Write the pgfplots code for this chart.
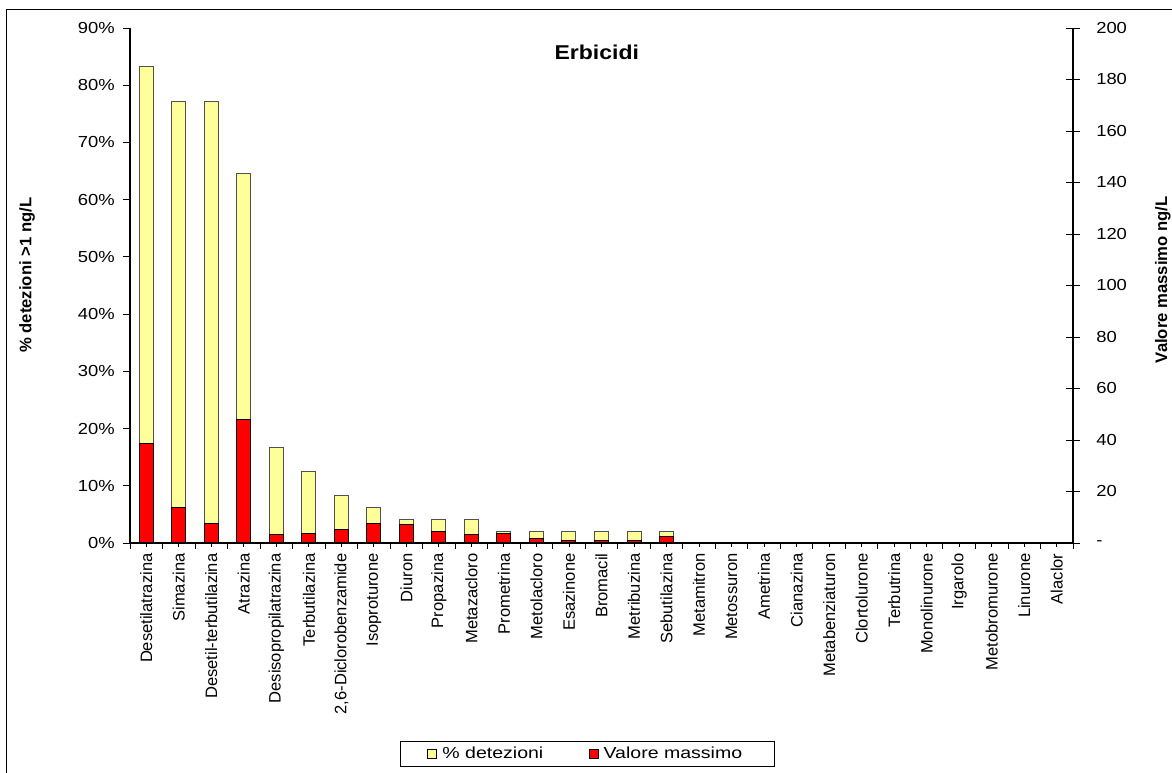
\documentclass[border=0pt]{standalone}
\usepackage{pgfplots}
\pgfplotsset{compat=1.18}
\usepackage{pgfplotstable}
\usepackage{fontspec}
\setmainfont{Liberation Sans}
\newfontfamily\hfont[FakeStretch=1.15]{Liberation Sans}
\newfontfamily\lfont[FakeStretch=1.22]{Liberation Sans}
\definecolor{yellowc}{HTML}{FFFF99}
\definecolor{redc}{HTML}{FF0000}
\definecolor{edgec}{HTML}{505050}
\pgfplotsset{sqlegend/.style={legend image code/.code={\draw[##1, line width=0.5pt] (0pt,-3.4pt) rectangle (6.75pt,3.4pt);}}}

\pgfplotstableread{
x pct maxv
0 83.33 38.8
1 77.08 13.9
2 77.08 7.6
3 64.58 47.8
4 16.67 3.4
5 12.50 3.8
6 8.33 5.4
7 6.25 7.6
8 4.17 7.3
9 4.17 4.5
10 4.17 3.4
11 2.08 3.5
12 2.08 1.6
13 2.08 1.0
14 2.08 0.9
15 2.08 0.9
16 2.08 2.7
}\datatable

\begin{document}
\begin{tikzpicture}
\useasboundingbox (0,0) rectangle (879pt,579.75pt);
\draw[line width=0.75pt] (4.5pt,0) -- (4.5pt,572.25pt) -- (879pt,572.25pt);

\begin{axis}[
  at={(97.5pt,172.5pt)}, anchor=south west,
  width=707.25pt, height=386.25pt, scale only axis,
  xmin=-0.5, xmax=28.5, ymin=0, ymax=90,
  axis x line*=bottom, axis y line*=left,
  axis line style={line width=0.9pt, -},
  /pgf/number format/assume math mode=true,
  tick align=outside,
  major tick length=5.25pt,
  xtick={0,...,28},
  xtick style={/pgfplots/major tick length=3pt, line width=0.7pt, black},
  minor xtick={-0.5,0.5,...,28.5},
  minor x tick style={/pgfplots/minor tick length=4.5pt, line width=0.7pt, black},
  xticklabels={Desetilatrazina,Simazina,Desetil-terbutilazina,Atrazina,Desisopropilatrazina,Terbutilazina,{2,6-Diclorobenzamide},Isoproturone,Diuron,Propazina,Metazacloro,Prometrina,Metolacloro,Esazinone,Bromacil,Metribuzina,Sebutilazina,Metamitron,Metossuron,Ametrina,Cianazina,Metabenziaturon,Clortolurone,Terbutrina,Monolinurone,Irgarolo,Metobromurone,Linurone,Alaclor},
  xticklabel style={rotate=90, anchor=east, font=\fontsize{12.4}{14}\selectfont, inner sep=2.5pt},
  ytick={0,10,...,90},
  yticklabels={0\%,10\%,20\%,30\%,40\%,50\%,60\%,70\%,80\%,90\%},
  ytick style={line width=0.7pt, black},
  yticklabel style={font=\hfont\fontsize{12}{14}\selectfont, inner sep=1pt, xshift=-5pt},
  ylabel={\bfseries \% detezioni >1 ng/L},
  ylabel style={at={(axis description cs:-0.1092,0.52)}, anchor=center, font=\fontsize{12.5}{14}\selectfont},
  ybar, bar width=10.5pt, bar shift=0pt,
  clip=false,
]
\addplot[fill=yellowc, draw=edgec, line width=0.75pt] table[x=x, y=pct] {\datatable};
\node[font=\hfont\bfseries\fontsize{15}{17}\selectfont] at (axis description cs:0.495,0.953) {Erbicidi};
\end{axis}

\begin{axis}[
  at={(97.5pt,172.5pt)}, anchor=south west,
  width=707.25pt, height=386.25pt, scale only axis,
  xmin=-0.5, xmax=28.5, ymin=0, ymax=200,
  axis x line=none, axis y line*=right,
  axis line style={line width=0.9pt, -},
  /pgf/number format/assume math mode=true,
  tick align=center,
  major tick length=10.5pt,
  ytick={0,20,...,200},
  yticklabels={-,20,40,60,80,100,120,140,160,180,200},
  ytick style={line width=0.7pt, black},
  yticklabel style={font=\hfont\fontsize{12}{14}\selectfont, anchor=west, inner sep=1pt, xshift=11pt},
  ylabel={\bfseries Valore massimo ng/L},
  ylabel style={at={(axis description cs:1.0954,0.511)}, anchor=center, rotate=0, font=\fontsize{12.5}{14}\selectfont},
  ybar, bar width=10.5pt, bar shift=0pt,
  legend style={at={(axis description cs:0.4851,-0.4097)}, anchor=center, draw=black, line width=0.75pt,
    font=\lfont\fontsize{12}{14}\selectfont, inner xsep=20pt, inner ysep=2pt,
    nodes={inner xsep=4pt},
    /tikz/every even column/.append style={column sep=30pt}},
  legend columns=2,
  clip=false,
]
\addlegendimage{fill=yellowc, draw=black, sqlegend}
\addlegendentry{\% detezioni}
\addplot[fill=redc, draw=black, line width=0.75pt, sqlegend] table[x=x, y=maxv] {\datatable};
\addlegendentry{Valore massimo}
\end{axis}
\end{tikzpicture}
\end{document}
